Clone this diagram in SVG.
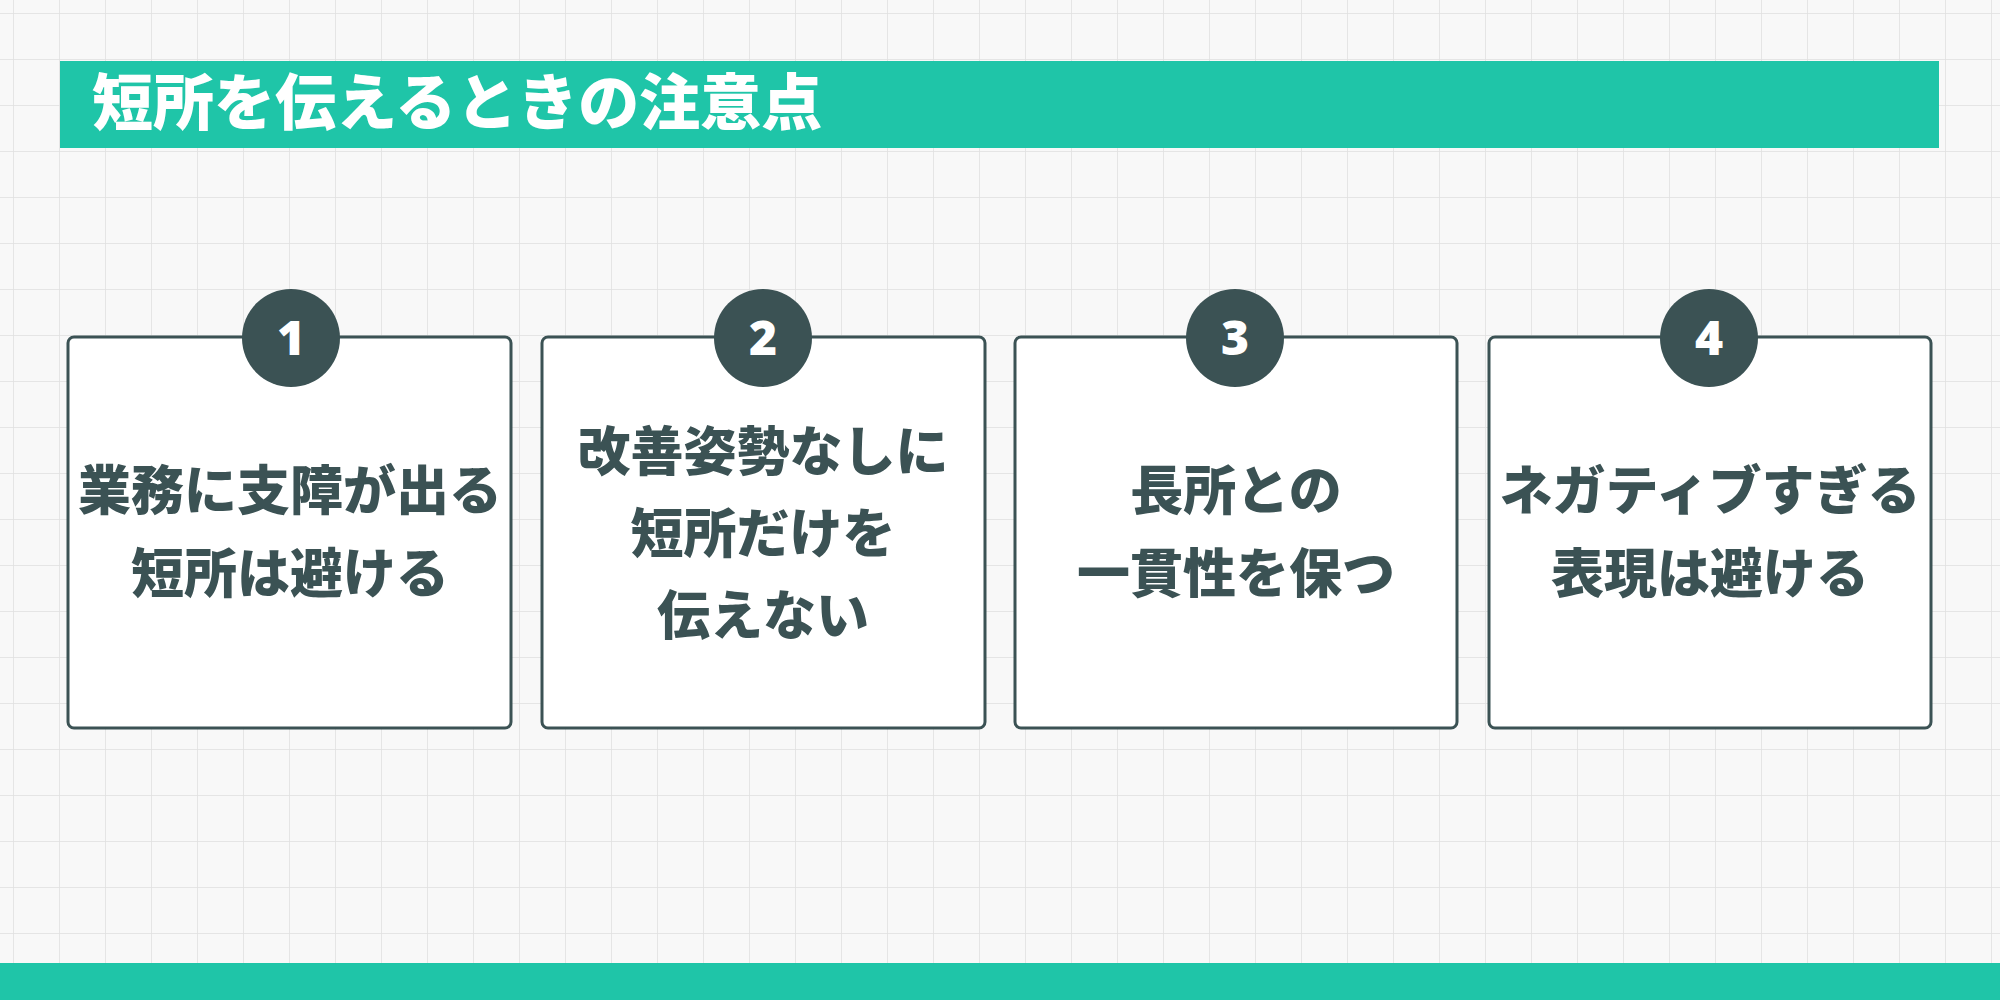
<svg xmlns="http://www.w3.org/2000/svg" width="2000" height="1000" viewBox="0 0 2000 1000">
<defs>
<pattern id="grid" width="46" height="46" patternUnits="userSpaceOnUse" x="14" y="14">
<path d="M46 0V46M0 46H46" fill="none" stroke="#e0e0e0" stroke-width="1.5"/>
</pattern>
<style>
.box{fill:#fff;stroke:#3b5254;stroke-width:3}
.num{fill:#3b5254}
.nt{fill:#fff;font-family:"Noto Sans","Noto Sans CJK JP",sans-serif;font-weight:900;font-size:48px;text-anchor:middle}
.t{fill:#3b5254;font-family:"Noto Sans CJK JP",sans-serif;font-weight:900;font-size:53px;text-anchor:middle}
</style>
</defs>
<rect width="2000" height="1000" fill="#f8f8f8"/>
<rect width="2000" height="1000" fill="url(#grid)"/>
<g id="title">
<rect x="60" y="61" width="1879" height="87" fill="#1fc5a8"/>
<text x="92" y="125" style="fill:#fff;font-family:'Noto Sans CJK JP',sans-serif;font-weight:900;font-size:61px">短所を伝えるときの注意点</text>
</g>
<rect id="footer" x="0" y="963" width="2000" height="37" fill="#1fc5a8"/>
<g id="connectors"></g>
<g id="node1">
<rect class="box" x="68" y="337" width="443" height="391" rx="6"/>
<circle class="num" cx="291" cy="338" r="49"/>
<text class="nt" x="291" y="355">1</text>
<text class="t" x="290" y="510">業務に支障が出る</text>
<text class="t" x="290" y="593">短所は避ける</text>
</g>
<g id="node2">
<rect class="box" x="542" y="337" width="443" height="391" rx="6"/>
<circle class="num" cx="763" cy="338" r="49"/>
<text class="nt" x="763" y="355">2</text>
<text class="t" x="763" y="471">改善姿勢なしに</text>
<text class="t" x="763" y="553">短所だけを</text>
<text class="t" x="763" y="635">伝えない</text>
</g>
<g id="node3">
<rect class="box" x="1015" y="337" width="442" height="391" rx="6"/>
<circle class="num" cx="1235" cy="338" r="49"/>
<text class="nt" x="1235" y="355">3</text>
<text class="t" x="1236" y="510">長所との</text>
<text class="t" x="1236" y="593">一貫性を保つ</text>
</g>
<g id="node4">
<rect class="box" x="1489" y="337" width="442" height="391" rx="6"/>
<circle class="num" cx="1709" cy="338" r="49"/>
<text class="nt" x="1709" y="355">4</text>
<text class="t" x="1710" y="510">ネガティブすぎる</text>
<text class="t" x="1710" y="593">表現は避ける</text>
</g>
</svg>
